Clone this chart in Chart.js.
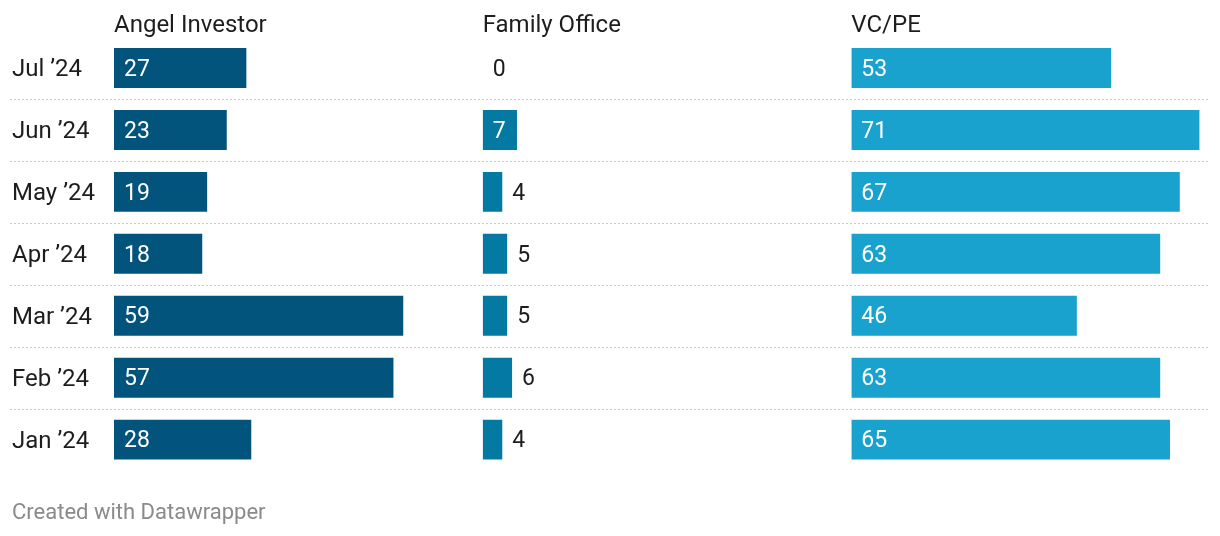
<!DOCTYPE html>
<html>
<head>
<meta charset="utf-8">
<script src="https://cdn.jsdelivr.net/npm/chart.js@4/dist/chart.umd.min.js"></script>
<style>
  html, body { margin: 0; padding: 0; background: #fff; }
  #wrap { position: relative; width: 1220px; height: 536px; }
</style>
</head>
<body>
<div id="wrap"><canvas id="chart"></canvas></div>
<script>
// data
const months = ["Jul \u201924", "Jun \u201924", "May \u201924", "Apr \u201924", "Mar \u201924", "Feb \u201924", "Jan \u201924"];
const angelInvestor = [27, 23, 19, 18, 59, 57, 28];
const familyOffice = [0, 7, 4, 5, 5, 6, 4];
const vcPe = [53, 71, 67, 63, 46, 63, 65];
const columnTitles = ["Angel Investor", "Family Office", "VC/PE"];

const colors = ['#03547c', '#0479a1', '#1aa2cf'];
const textColor = '#1d1d1d';
const fontFamily = 'Roboto, "Open Sans", sans-serif';
const scaleMax = 75.2;

Chart.defaults.font.family = fontFamily;

// value labels: white inside the bar if it fits, dark after it otherwise
const valueLabels = {
    id: 'valueLabels',
    afterDatasetsDraw(chart) {
        const ctx = chart.ctx;
        ctx.save();
        ctx.font = '23px ' + fontFamily;
        ctx.textBaseline = 'middle';
        ctx.textAlign = 'left';
        chart.data.datasets.forEach((ds, i) => {
            const meta = chart.getDatasetMeta(i);
            meta.data.forEach((bar, j) => {
                const txt = String(ds.data[j]);
                const w = ctx.measureText(txt).width;
                const barW = bar.x - bar.base;
                if (w + 20 <= barW) {
                    ctx.fillStyle = '#ffffff';
                    ctx.fillText(txt, bar.base + 10, bar.y + 2);
                } else {
                    ctx.fillStyle = textColor;
                    ctx.fillText(txt, bar.x + 10, bar.y + 2);
                }
            });
        });
        ctx.restore();
    }
};

// dotted separators between the rows
const rowLines = {
    id: 'rowLines',
    beforeDatasetsDraw(chart) {
        const ctx = chart.ctx;
        const y = chart.scales.y;
        ctx.save();
        ctx.strokeStyle = '#cccccc';
        ctx.lineWidth = 1;
        ctx.setLineDash([2, 2]);
        for (let i = 0; i < months.length - 1; i++) {
            const py = Math.round((y.getPixelForValue(i) + y.getPixelForValue(i + 1)) / 2) + 0.5;
            ctx.beginPath();
            ctx.moveTo(10, py);
            ctx.lineTo(chart.chartArea.right - 12, py);
            ctx.stroke();
        }
        ctx.restore();
    }
};

function columnAxis(title) {
    return {
        type: 'linear',
        position: 'top',
        stack: 'columns',
        min: 0,
        max: scaleMax,
        ticks: { display: false },
        grid: { display: false, drawTicks: false },
        border: { display: false },
        title: {
            display: true,
            text: title,
            align: 'start',
            color: textColor,
            font: { size: 24, family: fontFamily },
            padding: { top: 12, bottom: 0 }
        },
        afterFit(scale) {
            scale.height = 37;
        }
    };
}

const ctx = document.getElementById('chart');

new Chart(ctx, {
    type: 'bar',
    data: {
        labels: months,
        datasets: [
            { label: columnTitles[0], data: angelInvestor, backgroundColor: colors[0], xAxisID: 'xa' },
            { label: columnTitles[1], data: familyOffice, backgroundColor: colors[1], xAxisID: 'xf' },
            { label: columnTitles[2], data: vcPe, backgroundColor: colors[2], xAxisID: 'xv' }
        ]
    },
    options: {
        indexAxis: 'y',
        responsive: true,
        maintainAspectRatio: false,
        animation: false,
        datasets: {
            bar: {
                grouped: false,
                categoryPercentage: 1,
                barPercentage: 40 / 62,
                borderWidth: 0
            }
        },
        layout: {
            padding: { left: 12, right: 0, top: 0, bottom: 8 }
        },
        scales: {
            // top stacked axes get laid out last-first, so list them right to left
            xv: columnAxis(columnTitles[2]),
            xf: columnAxis(columnTitles[1]),
            xa: columnAxis(columnTitles[0]),
            y: {
                type: 'category',
                grid: { display: false, drawTicks: false },
                border: { display: false },
                ticks: {
                    crossAlign: 'far',
                    color: textColor,
                    font: { size: 24, family: fontFamily },
                    padding: 0,
                    labelOffset: 2
                },
                afterFit(scale) {
                    scale.width = 102;
                }
            }
        },
        plugins: {
            legend: { display: false },
            tooltip: { enabled: false },
            title: {
                display: true,
                position: 'bottom',
                align: 'start',
                text: 'Created with Datawrapper',
                color: '#8a8a8a',
                font: { size: 22, weight: 'normal', family: fontFamily },
                padding: { top: 30, bottom: 1 }
            }
        }
    },
    plugins: [rowLines, valueLabels]
});
</script>
</body>
</html>
